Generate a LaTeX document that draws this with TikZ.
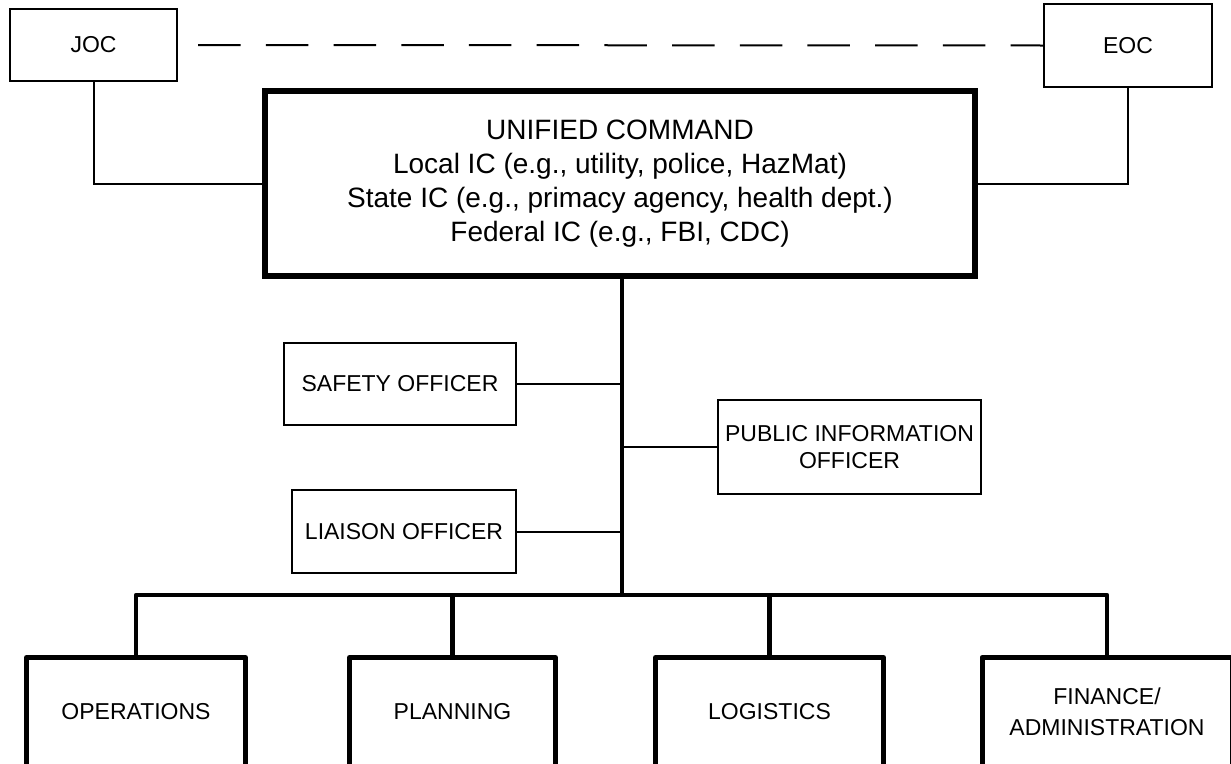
\documentclass[tikz,border=0pt]{standalone}
\usepackage{fontspec}
\setmainfont{Liberation Sans}
\begin{document}
\begin{tikzpicture}[x=1pt,y=-1pt,
  box/.style={draw=black,rectangle,inner sep=0pt,align=center,font=\fontsize{23}{27}\selectfont},
  topbox/.style={box,line width=2.3pt},
  offbox/.style={box,line width=2.5pt},
  unibox/.style={box,line width=6.5pt,font=\fontsize{28}{34}\selectfont},
  secbox/.style={box,line width=5pt,line join=round},
  thinline/.style={line width=2pt},
  thickline/.style={line width=4.5pt},
  dashline/.style={line width=2pt,dash pattern=on 42.5pt off 25.2pt,dash phase=47.7pt}]
\clip (0,0) rectangle (1231,763);
\fill[white] (0,0) rectangle (1231,763);

\node[topbox,minimum width=167pt,minimum height=72pt] (joc) at (93.5,45) {JOC};
\node[topbox,minimum width=168pt,minimum height=83pt] (eoc) at (1128,45.5) {EOC};
\node[unibox,minimum width=710pt,minimum height=185pt] (uni) at (620,183.5)
  {UNIFIED COMMAND\\Local IC (e.g., utility, police, HazMat)\\State IC (e.g., primacy agency, health dept.)\\Federal IC (e.g., FBI, CDC)};
\node[offbox,minimum width=232pt,minimum height=82pt] (saf) at (400,384) {SAFETY OFFICER};
\node[offbox,minimum width=224pt,minimum height=83pt] (lia) at (404,531.5) {LIAISON OFFICER};
\node[offbox,minimum width=263pt,minimum height=94pt] (pio) at (849.5,447) {PUBLIC INFORMATION\\OFFICER};
\node[secbox,minimum width=219pt,minimum height=109pt] (ops) at (136,712) {OPERATIONS};
\node[secbox,minimum width=206pt,minimum height=109pt] (pla) at (452.5,712) {PLANNING};
\node[secbox,minimum width=228pt,minimum height=109pt] (log) at (769.5,712) {LOGISTICS};
\node[secbox,minimum width=250pt,minimum height=109pt,font=\fontsize{23}{31}\selectfont] (fin) at (1107,712) {FINANCE/\\ADMINISTRATION};

\coordinate (sb) at (622,595);

\draw[dashline] (joc.east) -- (eoc.west);
\draw[thinline] (joc.south) |- (uni.west);
\draw[thinline] (eoc.south) |- (uni.east);
\draw[thickline] (uni.south -| sb) -- (sb);
\draw[thinline] (saf.east) -- (saf.east -| sb);
\draw[thinline] (lia.east) -- (lia.east -| sb);
\draw[thinline] (pio.west) -- (pio.west -| sb);
\draw[thickline,line join=round] (ops.north) -- (ops.north |- sb) -- (fin.north |- sb) -- (fin.north);
\draw[thickline] (pla.north) -- (pla.north |- sb);
\draw[thickline] (log.north) -- (log.north |- sb);
\end{tikzpicture}
\end{document}
